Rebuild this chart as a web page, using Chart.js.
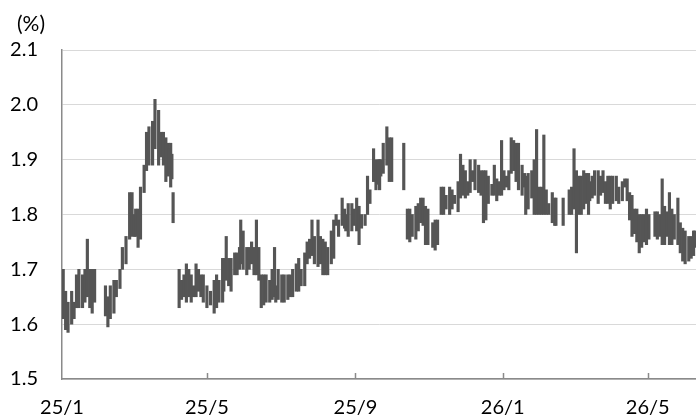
<!DOCTYPE html>
<html>
<head>
<meta charset="utf-8">
<script src="https://cdn.jsdelivr.net/npm/chart.js@4/dist/chart.umd.min.js"></script>
<style>
  body { margin: 0; background: #fff; }
</style>
</head>
<body>
<canvas id="yieldChart" width="696" height="418"></canvas>
<script>
// days since 2025-01-01, daily high / low (%)
const days = [
  1,3,5,8,10,12,14,17,19,21, 23,25,27,36,38,40,43,45,48,50,
  53,56,58,60,61,63,65,68,70,72, 75,77,80,82,84,86,88,89,90,91, 92,
  97,99,101,103,105,107,109,111,113,115, 117,120,123,126,128,130,133,134,136,138,
  140,143,145,147,148,150,153,155,157,159, 161,163,165,167,169,172,174,176,177,179,
  182,184,187,189,191,194,196,198,201,203, 205,207,209,212,214,216,218,220,223,225,
  227,229,232,234,235,237,240,242,244,246, 248,251,253,255,258,260,262,263,264,266,
  269,271,273,283,
  286,288,290,293,295,297,299,301,303,307, 309,311,314,316,318,321,323,325,328,330,
  332,334,336,338,340,342,345,347,349,351, 353,356,358,360,362,364,366,368,370,372,
  374,376,378,381,383,384,386,389,391,393, 395,397,399,401,403,406,408,409,415,420,
  422,424,426,428,430,432,434,436,437,439, 441,444,446,448,450,452,454,456,459,461,
  464,466,468,470,472,474,476,478,480,482, 484,486,491,493,495,497,499,501,503,505,
  507,510,512,514,516,519,521,523,524
];
const highs = [
  1.70,1.66,1.64,1.66,1.64,1.69,1.70,1.69,1.70,1.755, 1.70,1.70,1.70,1.67,1.65,1.67,1.68,1.68,1.70,1.74,
  1.76,1.84,1.84,1.80,1.81,1.81,1.85,1.89,1.95,1.96, 1.97,2.01,1.99,1.95,1.95,1.94,1.93,1.92,1.93,1.91, 1.84,
  1.70,1.68,1.69,1.71,1.70,1.69,1.67,1.71,1.70,1.69, 1.69,1.67,1.66,1.68,1.69,1.68,1.72,1.72,1.76,1.72,
  1.72,1.73,1.73,1.74,1.79,1.77,1.74,1.74,1.75,1.74, 1.79,1.74,1.69,1.69,1.69,1.68,1.70,1.74,1.67,1.70,
  1.69,1.69,1.69,1.69,1.70,1.71,1.72,1.70,1.73,1.75, 1.755,1.79,1.76,1.79,1.76,1.755,1.75,1.74,1.77,1.79,
  1.80,1.79,1.83,1.81,1.80,1.82,1.82,1.81,1.83,1.815, 1.80,1.80,1.87,1.845,1.92,1.90,1.90,1.90,1.90,1.93,
  1.96,1.94,1.94,1.93,
  1.81,1.81,1.80,1.815,1.82,1.83,1.83,1.815,1.81,1.785, 1.79,1.79,1.85,1.85,1.835,1.85,1.845,1.835,1.86,1.91,
  1.89,1.88,1.86,1.90,1.88,1.90,1.89,1.88,1.88,1.88, 1.87,1.855,1.89,1.865,1.86,1.935,1.88,1.87,1.88,1.94,
  1.935,1.93,1.93,1.89,1.875,1.87,1.875,1.88,1.90,1.955, 1.85,1.85,1.945,1.845,1.82,1.84,1.83,1.83,1.83,1.845,
  1.85,1.92,1.88,1.87,1.87,1.88,1.875,1.875,1.86,1.87, 1.88,1.88,1.87,1.88,1.86,1.87,1.87,1.87,1.87,1.85,
  1.86,1.865,1.865,1.84,1.835,1.81,1.81,1.80,1.80,1.80, 1.81,1.80,1.805,1.805,1.80,1.865,1.815,1.805,1.84,1.81,
  1.80,1.83,1.785,1.775,1.77,1.76,1.76,1.77,1.77
];
const lows = [
  1.61,1.59,1.585,1.60,1.61,1.63,1.63,1.63,1.64,1.65, 1.63,1.62,1.64,1.615,1.595,1.61,1.62,1.65,1.665,1.70,
  1.71,1.755,1.76,1.76,1.76,1.74,1.755,1.84,1.88,1.89, 1.89,1.92,1.89,1.905,1.89,1.86,1.87,1.875,1.85,1.865, 1.785,
  1.63,1.645,1.65,1.64,1.65,1.64,1.65,1.65,1.66,1.65, 1.64,1.63,1.635,1.62,1.63,1.64,1.64,1.66,1.68,1.67,
  1.66,1.69,1.69,1.70,1.71,1.70,1.69,1.70,1.71,1.69, 1.69,1.68,1.63,1.635,1.64,1.64,1.645,1.65,1.64,1.645,
  1.64,1.64,1.645,1.65,1.65,1.66,1.66,1.67,1.67,1.71, 1.72,1.725,1.71,1.705,1.71,1.69,1.69,1.69,1.71,1.72,
  1.78,1.76,1.78,1.775,1.77,1.76,1.77,1.78,1.77,1.745, 1.775,1.78,1.80,1.82,1.86,1.845,1.855,1.845,1.87,1.875,
  1.89,1.86,1.86,1.845,
  1.755,1.75,1.76,1.755,1.77,1.785,1.78,1.745,1.745,1.74, 1.735,1.745,1.80,1.80,1.81,1.80,1.81,1.82,1.805,1.83,
  1.835,1.83,1.835,1.84,1.86,1.845,1.84,1.835,1.785,1.79, 1.82,1.835,1.835,1.825,1.835,1.835,1.845,1.85,1.845,1.875,
  1.88,1.86,1.845,1.835,1.85,1.80,1.81,1.83,1.80,1.80, 1.80,1.80,1.80,1.80,1.80,1.785,1.78,1.78,1.78,1.80,
  1.80,1.81,1.73,1.80,1.80,1.81,1.82,1.80,1.825,1.83, 1.835,1.82,1.835,1.84,1.82,1.82,1.81,1.82,1.825,1.82,
  1.825,1.85,1.825,1.79,1.76,1.765,1.75,1.73,1.74,1.75, 1.745,1.755,1.76,1.755,1.76,1.745,1.745,1.76,1.745,1.745,
  1.755,1.745,1.73,1.715,1.71,1.715,1.72,1.725,1.74
];
const tickDays = [0, 120, 243, 365, 485];
const tickLabels = ["25/1", "25/5", "25/9", "26/1", "26/5"];

const FONT = "Lato, 'Open Sans', sans-serif";
const AXIS_GRAY = "#8a8a8a";

// "(%)" label and the small inward tick marks on the x axis
const extras = {
  id: "extras",
  afterDraw(chart) {
    const ctx = chart.ctx;
    const x = chart.scales.x;
    const bottom = chart.chartArea.bottom;
    ctx.save();
    ctx.strokeStyle = AXIS_GRAY;
    ctx.lineWidth = 1.5;
    tickDays.slice(1).forEach((d) => {
      const px = Math.round(x.getPixelForValue(d)) + 0.5;
      ctx.beginPath();
      ctx.moveTo(px, bottom);
      ctx.lineTo(px, bottom - 6);
      ctx.stroke();
    });
    ctx.fillStyle = "#000";
    ctx.font = "21px " + FONT;
    ctx.textAlign = "left";
    ctx.textBaseline = "middle";
    ctx.fillText("(%)", 17, 24);
    ctx.restore();
  },
};

const ctx = document.getElementById("yieldChart").getContext("2d");
new Chart(ctx, {
  type: "bar",
  data: {
    datasets: [
      {
        data: days.map((d, i) => ({ x: d, y: [lows[i], highs[i]] })),
        backgroundColor: "#555555",
        borderWidth: 0,
        barThickness: 2.5,
        grouped: false,
      },
    ],
  },
  options: {
    responsive: false,
    animation: false,
    layout: { padding: { top: 50, left: 0, right: 0, bottom: 0 } },
    plugins: { legend: { display: false }, tooltip: { enabled: false } },
    scales: {
      x: {
        type: "linear",
        min: 0,
        max: 525,
        offset: false,
        afterBuildTicks: (scale) => {
          scale.ticks = tickDays.map((v) => ({ value: v }));
        },
        afterFit: (scale) => {
          scale.height = 39;
        },
        grid: { display: false, drawTicks: false },
        border: { display: true, color: AXIS_GRAY, width: 1.5 },
        ticks: {
          autoSkip: false,
          maxRotation: 0,
          padding: 17,
          color: "#000",
          font: { family: FONT, size: 20 },
          callback: (v, i) => tickLabels[i],
        },
      },
      y: {
        min: 1.5,
        max: 2.1,
        afterFit: (scale) => {
          scale.width = 62;
        },
        grid: { color: "#d9d9d9", lineWidth: 1, drawTicks: false },
        border: { display: true, color: AXIS_GRAY, width: 1.5 },
        ticks: {
          stepSize: 0.1,
          padding: 24,
          color: "#000",
          font: { family: FONT, size: 20 },
          callback: (v) => v.toFixed(1),
        },
      },
    },
  },
  plugins: [extras],
});
</script>
</body>
</html>
